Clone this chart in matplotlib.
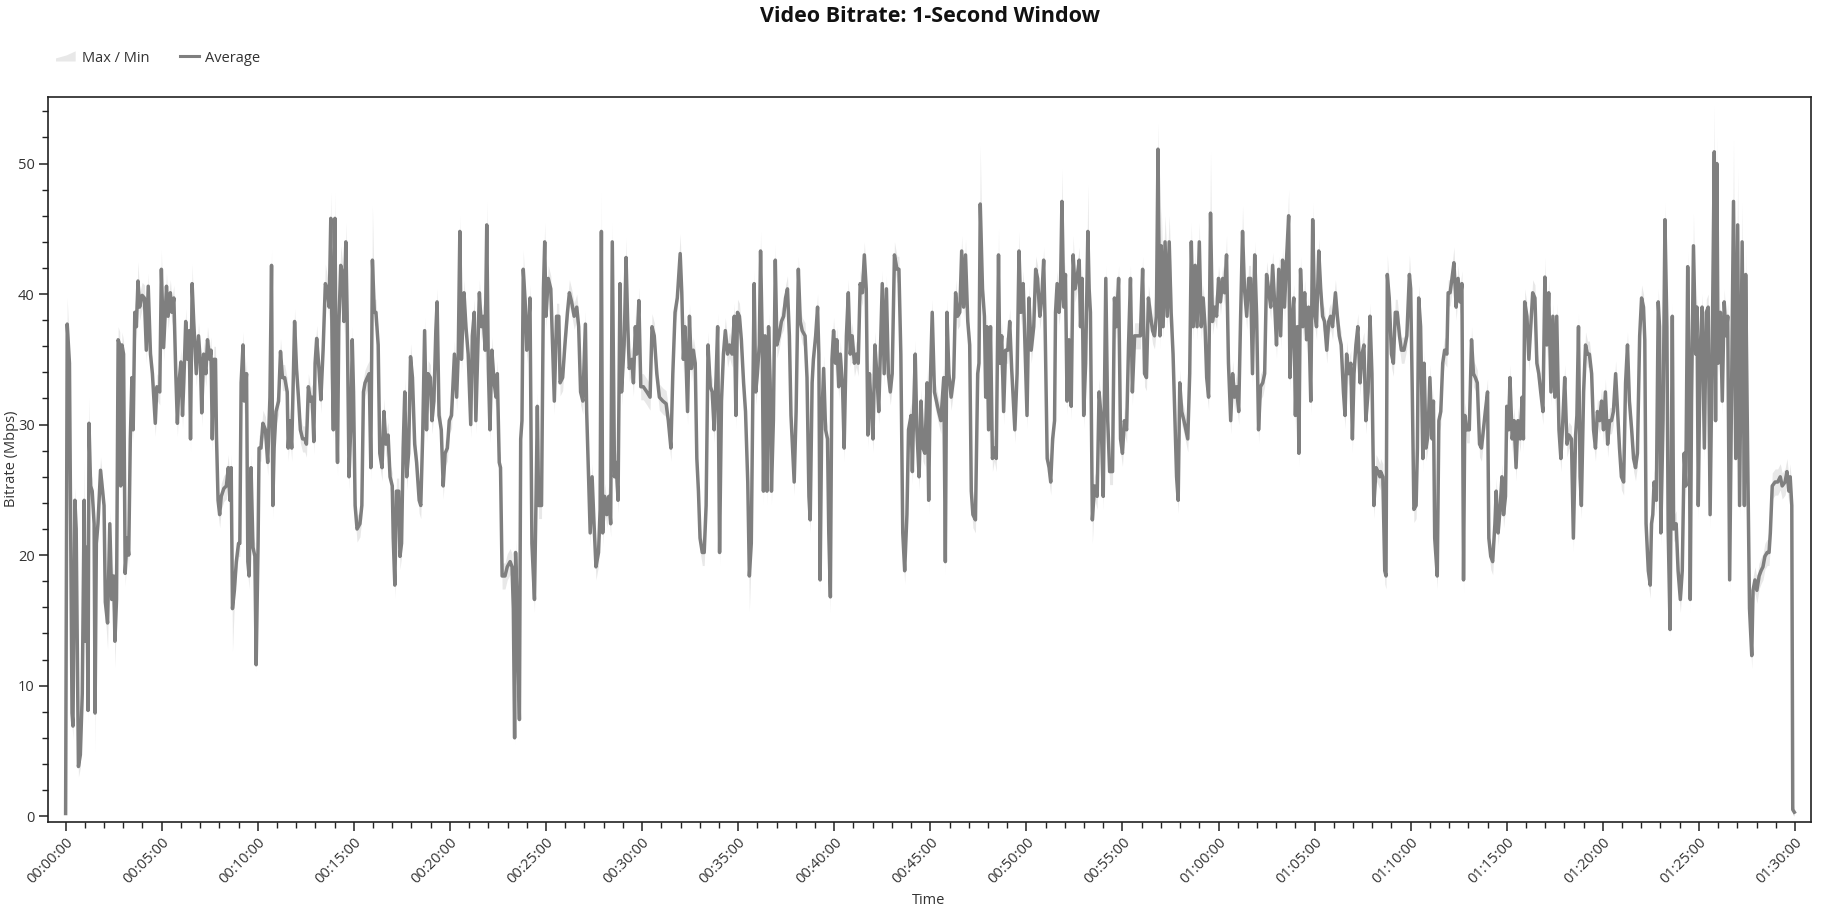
import numpy as np
import matplotlib
matplotlib.use("Agg")
import matplotlib.pyplot as plt
from matplotlib.ticker import MultipleLocator, FuncFormatter
from matplotlib.patches import Patch, Polygon
from matplotlib.lines import Line2D
from matplotlib.legend_handler import HandlerPatch

plt.rcParams['font.family'] = ['Open Sans', 'DejaVu Sans']

title = "Video Bitrate: 1-Second Window"
legend_labels = ["Max / Min", "Average"]
y_label = "Bitrate (Mbps)"
x_label = "Time"

# time (seconds) of each read vertex
time_s = [
    0,5,12,20,23,29,33,40,46,52,
    58,62,66,70,73,78,83,89,92,96,
    101,109,120,124,131,138,144,150,154,159,
    164,169,172,176,181,186,192,197,202,207,
    211,216,221,226,231,239,246,252,258,265,
    271,280,285,294,299,306,315,320,327,332,
    338,344,349,354,360,365,369,375,381,386,
    390,395,400,408,415,421,425,431,438,443,
    450,454,458,463,468,471,476,481,486,494,
    502,508,513,517,521,527,533,540,544,548,
    554,558,565,569,573,579,585,591,595,601,
    604,610,616,624,631,638,643,647,651,657,
    665,671,677,684,692,695,700,706,715,721,
    727,733,740,747,752,758,765,770,775,779,
    784,791,797,804,811,817,823,828,833,836,
    841,845,849,853,859,865,869,875,879,885,
    891,895,899,904,910,919,925,930,935,942,
    948,953,958,964,969,976,981,988,994,1000,
    1007,1013,1020,1023,1028,1033,1040,1044,1049,1054,
    1059,1065,1071,1077,1083,1090,1096,1104,1109,1115,
    1121,1127,1132,1139,1144,1150,1156,1160,1166,1173,
    1179,1185,1192,1198,1205,1214,1221,1226,1231,1236,
    1244,1250,1257,1265,1270,1276,1281,1286,1292,1298,
    1304,1310,1315,1320,1325,1331,1338,1344,1348,1354,
    1358,1363,1372,1379,1388,1394,1398,1402,1405,1410,
    1417,1421,1425,1429,1435,1440,1445,1450,1456,1464,
    1469,1473,1477,1486,1492,1496,1500,1507,1515,1521,
    1526,1533,1540,1544,1552,1559,1567,1573,1580,1588,
    1596,1602,1608,1615,1623,1627,1633,1638,1644,1650,
    1656,1664,1669,1673,1677,1683,1690,1696,1702,1707,
    1714,1719,1725,1731,1736,1744,1750,1755,1760,1768,
    1773,1779,1783,1790,1796,1804,1815,1825,1831,1838,
    1846,1854,1865,1875,1882,1890,1896,1903,1910,1919,
    1924,1929,1934,1942,1948,1954,1960,1966,1971,1976,
    1981,1988,1994,2000,2006,2013,2019,2025,2031,2036,
    2042,2048,2054,2060,2067,2073,2081,2088,2093,2098,
    2104,2110,2117,2123,2130,2135,2141,2146,2150,2155,
    2160,2166,2170,2175,2179,2184,2190,2195,2200,2204,
    2210,2216,2221,2228,2235,2242,2248,2254,2260,2265,
    2270,2275,2281,2288,2294,2300,2309,2315,2321,2325,
    2331,2335,2342,2348,2352,2356,2361,2367,2373,2379,
    2383,2388,2393,2398,2404,2408,2414,2419,2426,2431,
    2438,2444,2450,2456,2463,2469,2475,2481,2488,2494,
    2500,2505,2510,2516,2521,2527,2533,2539,2544,2550,
    2556,2563,2569,2575,2581,2588,2596,2602,2608,2614,
    2620,2627,2632,2640,2644,2648,2653,2658,2665,2671,
    2677,2683,2690,2695,2700,2706,2713,2719,2726,
    2733,2742,2747,2752,2758,2765,2773,2779,2785,2792,
    2798,2804,2810,2817,2823,2828,2833,2841,2848,2852,
    2856,2863,2869,2873,2877,2882,2888,2894,2900,2906,
    2913,2917,2923,2929,2935,2942,2948,2954,2964,2971,
    2977,2983,2990,2994,3002,3008,3015,3023,3029,3035,
    3042,3048,3054,3058,3065,3071,3076,3082,3088,3091,
    3096,3102,3106,3111,3117,3122,3127,3133,3140,3146,
    3152,3158,3165,3169,3174,3179,3185,3192,3196,3200,
    3206,3213,3221,3227,3233,3240,3248,3254,3260,3269,
    3275,3281,3288,3294,3300,3306,3313,3319,3325,3331,
    3338,3344,3350,3356,3363,3369,3375,3381,3388,3394,
    3400,3406,3411,3417,3421,3427,3433,3440,3446,3452,
    3458,3463,3469,3474,3479,3485,3492,3498,3504,3510,
    3515,3521,3527,3533,3540,3546,3552,3558,3563,3569,
    3575,3581,3588,3594,3600,3606,3613,3619,3625,3631,
    3638,3644,3650,3656,3663,3669,3675,3681,3688,3694,
    3700,3706,3713,3719,3725,3731,3738,3744,3750,3756,
    3763,3769,3775,3781,3788,3794,3800,3806,3813,3819,
    3823,3829,3835,3840,3846,3851,3856,3863,3869,3875,
    3881,3888,3894,3900,3906,3913,3919,3925,3931,3938,
    3944,3950,3956,3965,3971,3977,3983,3990,3995,4000,
    4006,4013,4018,4023,4029,4035,4042,4048,4054,4060,
    4067,4073,4079,4085,4092,4098,4104,
    4106,4113,4119,4123,4127,4133,4140,4146,4152,4158,
    4165,4171,4179,4188,4196,4200,4205,4210,4217,4221,
    4225,4231,4238,4242,4248,4254,4260,4267,4271,4275,
    4279,4283,4288,4294,4300,4306,4313,4317,4323,4329,
    4335,4342,4348,4354,4360,4365,4369,4375,4383,4390,
    4396,4402,4408,4415,4421,4427,4433,4440,4444,4450,
    4456,4463,4467,4473,4479,4485,4490,4496,4500,4506,
    4510,4517,4523,4529,4535,4542,4548,4552,4556,4563,
    4569,4575,4581,4588,4594,4600,4606,4613,4619,4625,
    4631,4638,4644,4650,4656,4663,4669,4675,4681,4688,
    4694,4702,4708,4715,4719,4724,4729,4733,4740,4746,
    4752,4758,4765,4771,4777,4783,4790,4796,4802,4808,
    4815,4821,4827,4833,4840,4846,4852,4858,4865,4871,
    4877,4883,4890,4896,4902,4908,4915,4921,4927,4931,
    4935,4942,4948,4952,4956,4960,4967,4973,4977,4981,
    4988,4994,5000,5004,5010,5017,5021,5029,5035,5042,
    5048,5054,5059,5065,5070,5073,5077,5083,5090,5094,
    5098,5104,5110,5117,5123,5129,5135,5142,5148,5152,
    5156,5160,5167,5173,5179,5185,5190,5196,5202,5208,
    5215,5221,5227,5235,5242,5246,5252,5258,5265,5269,
    5275,5281,5288,5294,5300,5306,5313,5319,5323,5329,
    5338,5346,5354,5360,5369,5375,5381,5385,5390,5393,
    5398,
]

# average bitrate (Mbps)
avg_mbps = [
    0.2,37.7,34.7,7.9,6.9,24.2,22,3.8,4.7,9.4,
    24.2,13.4,20.6,8.1,30.1,25.3,24.9,22.4,7.9,20.9,
    22.4,26.5,23.8,16.4,14.8,22.4,16.6,18.4,13.4,16.6,
    36.5,36.1,25.3,36.1,35.4,18.6,21.3,20,28.9,33.6,
    29.6,38.6,37.5,41,39,39.9,39.7,35.7,40.6,35.4,
    33.9,30.1,32.9,32.5,41.9,35.9,40.6,38.3,40.1,38.6,
    39.7,33.9,30.1,33.2,34.8,30.7,33.2,37.9,35,37.2,
    28.9,40.8,37.9,33.9,36.8,34.7,30.9,35.4,33.9,36.5,
    35,35.7,28.9,35,35,29.2,24.2,23.1,24.5,25.1,
    25.3,26.7,24.2,26.7,15.9,17.3,19.5,20.9,20.9,33.2,
    36.1,31.8,33.9,19.5,18.4,26.7,20.6,19.9,11.6,20.9,
    28.2,28.2,30.1,29.6,27.1,32.1,42.2,23.8,28.2,31,
    31.8,35.6,33.6,33.6,32.5,28.2,30.3,28.2,37.9,34.3,
    32.1,29.6,28.9,28.9,28.5,32.9,31.8,32.1,28.7,34.7,
    36.6,34.3,31.9,35.7,40.8,40.4,39,45.8,33.9,29.6,
    45.8,32.5,27.1,37.5,42.2,41.5,37.9,44,38.6,26,
    30.3,36.5,32.5,23.8,22,22.4,23.8,32.5,33.2,33.6,
    33.9,26.7,42.6,38.6,38.6,36.1,27.8,26.7,31,28.5,
    29.2,26,25.3,21.3,17.7,24.9,24.9,19.9,20.9,28.2,
    32.5,26,27.8,35.2,33.6,28.5,27.1,24.2,23.8,29.2,
    37.2,29.6,33.9,33.6,30.3,31.8,37.2,39.4,30.7,29.6,
    25.3,27.8,28.2,30.3,30.7,35.4,32.1,35.4,44.8,35,
    40.1,37.5,35.4,30,36.8,38.6,30.3,34.7,40.1,37.5,
    38.3,35.7,45.3,34.3,29.6,35.7,33.2,32.1,33.9,27.1,
    26.7,18.4,18.4,19.1,19.5,19.1,15.9,6.0,20.2,15.9,
    7.4,28.9,30.3,41.9,39.4,35.7,37.2,39.7,20.9,16.6,
    24.5,31.4,23.8,23.8,40.4,44,38.3,41.2,40.4,35.7,
    31.8,38.3,38.3,33.2,33.6,36.1,38.6,40.1,39.4,38.3,
    39,37.5,32.5,31.8,37.7,31,26,21.7,26,22.4,
    19.1,20.2,23.5,44.8,21.7,24.5,23.1,24.5,22.4,44,
    26,27.1,24.2,40.8,32.5,36.1,42.8,37.9,34.3,35,
    33.2,37.5,35.4,39.5,32.9,32.9,32.5,32.1,37.5,36.8,
    33.9,32.1,31.8,31.6,30.3,28.2,33.9,38.6,39.7,43.1,
    40.1,35,37.5,31,38.3,34.3,35.7,34.7,27.4,24.9,
    21.3,20.2,20.2,23.8,36.1,32.9,32.5,29.6,33.6,37.5,
    20.2,31.8,35.4,37.2,35.4,36.1,35.4,38.3,30.7,38.6,
    38.3,36.5,33.2,31,25.6,18.4,20.9,32.5,40.8,32.5,
    33.9,36.1,43.3,36.8,24.9,36.8,24.9,37.5,33.2,24.9,
    30.3,42.6,36.1,36.8,37.9,38.3,39.7,40.4,36.8,30.7,
    28.2,25.6,31,41.9,37.9,37.2,36.8,33.6,24.5,22.7,
    33.2,35,36.8,39,35.4,18.1,30.3,34.3,29.6,28.9,
    21.7,16.8,35,37.2,34.7,36.5,32.9,35.4,32.9,28.2,
    36.8,40.1,35.4,36.8,34.7,35.4,34.7,40.8,40.1,43,
    40.4,29.2,33.9,31,28.9,36.1,33.9,31,35.4,40.8,
    33.9,40.4,33.9,32.5,33.9,43,41.9,41.9,35.4,21.7,
    18.8,23.1,29.6,30.7,26.4,31,35.4,29.6,26,31.8,
    28.2,27.8,33.2,24.2,33.2,38.6,32.5,31.8,31,
    30.3,33.6,19.5,38.6,33.9,32.1,33.6,40.1,38.3,38.6,
    43.3,39,43,37.9,36.1,24.9,23.1,22.7,33.9,34.7,
    46.9,40.4,38.3,32.1,37.5,29.6,37.5,27.4,28.2,27.4,
    43,34.7,36.8,31,35.7,35.7,37.9,34.3,29.6,33.9,
    43.3,38.6,40.8,37.5,30.7,39.7,35.7,37.5,41.9,41.2,
    38.3,39.7,42.6,38.3,27.4,26.7,25.6,28.9,30.3,38.6,
    40.8,38.6,39.7,47.1,39,41.5,31.8,36.5,31.4,43,
    40.4,41.2,42.6,37.5,41.2,30.7,34.7,44.8,40.4,38.6,
    22.7,25.3,24.5,32.5,30.7,24.5,41.2,30.3,26.4,26.4,
    39.7,37.5,41.2,28.9,27.8,30.3,29.6,36.1,41.2,32.5,
    36.8,36.8,36.8,36.8,41.9,33.9,33.6,39.7,38.3,37.2,
    36.8,38.3,51.1,36.8,43.7,37.5,44,38.3,44,38.6,
    35.4,31,26,24.2,33.2,31,30.3,29.6,28.9,33.9,
    44,37.5,42.2,37.5,44,37.5,39.7,37.5,33.6,32.1,
    46.2,37.9,39,38.3,41.2,39.4,41.2,40.1,43,34.7,
    30.3,33.9,32.1,32.9,31,38.3,44.8,40.4,38.3,41.2,
    41.2,33.9,43,38.3,29.6,32.9,33.2,33.9,41.5,40.4,
    39,42.2,39.4,36.1,41.9,36.8,42.6,39,43,46,
    33.6,37.9,39.7,30.7,37.5,27.8,41.9,37.5,40.1,36.5,
    39,31.8,45.7,38.6,37.5,43.3,40.4,38.3,37.9,35.7,
    37.9,38.3,37.5,40.1,38.3,36.8,36.1,32.5,30.7,35.4,
    33.9,34.7,28.9,33.9,36.1,37.5,33.2,35.4,36.1,30.3,
    32.5,38.3,33.9,23.8,26.7,26.4,26,
    26.4,26,18.8,18.4,41.5,39.7,35.4,34.7,38.6,38.6,
    36.8,35.7,35.7,36.8,41.5,40.4,32.5,23.5,23.8,28.2,
    39.7,37.5,27.4,34.7,28.2,29.2,33.6,28.9,31.8,21.3,
    19.9,18.4,30.3,31,34.7,35.7,35.4,40.1,40.1,41.2,
    42.4,39,41.2,39.4,40.8,18.1,30.7,29.6,29.6,36.5,
    33.9,33.6,33.2,28.5,28.2,29.6,31,32.5,21.3,19.9,
    19.5,22.4,24.9,21.7,23.5,26,23.1,24.5,31.4,29.6,
    33.6,28.9,30.3,26.7,30.3,28.9,32.1,28.9,39.4,38.3,
    35,37.5,40.1,39.7,34.7,33.9,32.5,31,41.3,36.1,
    40.1,32.5,38.3,32.1,38.3,29.6,27.4,30.3,33.6,28.5,
    29.2,28.9,21.3,29.2,30.7,37.5,26,23.8,32.5,36.1,
    35.4,35.4,33.9,29.6,28.2,31,30.3,31.8,29.6,32.5,
    28.5,30.3,30.3,31,33.9,31,28.2,26,25.6,33.2,
    36.1,31.8,29.6,27.4,26.7,27.8,36.8,39.7,39,36.5,
    22.4,18.8,17.7,22.4,23.1,25.6,24.2,39.4,37.5,21.7,
    30.3,45.7,37.5,22,14.3,38.3,22,22.4,18.8,16.6,
    18.8,27.8,25.3,42.1,32.1,16.6,31.8,43.7,35.4,39,
    23.8,35.7,39,28.2,38.6,39,23.1,36.8,50.9,30.3,
    50,34.7,38.6,31.8,39.4,36.8,38.3,18.1,32.5,47.1,
    27.4,45.3,23.8,44,23.8,41.5,28.2,15.9,12.3,17.3,
    18.1,17.3,18.4,18.8,19.1,19.9,20.2,20.2,21.7,25.3,
    25.6,25.6,26,25.3,25.6,26.4,24.9,26,23.8,0.5,
    0.3,
]

# how far the 1-second maximum rises above the average (Mbps)
max_gap = [
    0.3,2,1,1,1,1,1,1,1,1,
    3,1,1,1,2,1,1,1,1,1,
    1,1,1,1,1,1,1,1,1,1,
    1,1,1,1,1,1,1,1,1,1,
    1,1,1,1.5,1,1,1,1,1,1,
    1,1,1,1,1.5,1,1,1,1,1,
    1,1,1,1,1,1,1,1,1,1,
    1,1.5,1,1,1,1,1,1,1,1,
    1,1,1,1,1,1,1,1,1,1,
    1,1,1,1,1,1,1,1,1,1,
    1,1,1,1,1,1,1,1,1,1,
    1,1,1,1,1,1,1.2,1,1,1,
    1,1,1,1,1,1,1,1,1,1,
    1,1,1,1,1,1,1,1,1,1,
    1,1,1,1,1.5,1,1,2,1,1,
    2,1,1,1,1.5,1,1,1.5,1,1,
    1,1,1,1,1,1,1,1,1,1,
    1,1,4.2,1,1,1,1,1,1,1,
    1,1,1,1,1,1,1,1,1,1,
    1,1,1,1,1,1,1,1,1,1,
    1,1,1,1,1,1,1,1,1,1,
    1,1,1,1,1,1,1,1,1.2,1,
    1,1,1,1,1,1,1,1,1,1,
    1,1,1.8,1,1,1,1,1,1,1,
    1,1,1,1,1,1,1,1,1,1,
    1,1,1,1.5,1,1,1,1,1,1,
    1,1,1,1,1,1.5,1,1,1,1,
    1,1,1,1,1,1,1,1,1,1,
    1,1,1,1,1,1,1,1,1,1,
    1,1,1,3,1,1,1,1,1,1.5,
    1,1,1,1,1,1,1.5,1,1,1,
    1,1,1,1,1,1,1,1,1,1,
    1,1,1,1,1,1,1,1,1,1.5,
    1,1,1,1,1,1,1,1,1,1,
    1,1,1,1,1,1,1,1,1,1,
    1,1,1,1,1,1,1,1,1,1,
    1,1,1,1,1,1,1,1,1,1,
    1,1,1.5,1,1,1,1,1,1,1,
    1,1.2,1,1,1,1,1,1,1,1,
    1,1,1,1,1,1,1,1,1,1,
    1,1,1,1,1,1,1,1,1,1,
    1,1,1,1,1,1,1,1,1,1,
    1,1,1,1,1,1,1,1,1,1,
    1,1,1,1,1,1,1,1,1,1,
    1,1,1,1,1,1,1,1,1,1,
    1,1,1,1,1,1,1,1,1,1,
    1,1,1,1,1,1,1,1,1,
    1,1,1,1,1,1,1,1,1,1,
    1.2,1,1.2,1,1,1,1,1,1,1,
    4.5,1,1,1,1,1,1,1,1,1,
    2,1,1,1,1,1,1,1,1,1,
    1.5,1,1,1,1,1,1,1,1,1,
    1,1,1,1,1,1,1,1,1,1,
    1,1,1,2.5,1,1,1,1,1,1.5,
    1,1,1,1,1,1,1,3.6,1,1,
    1,1,1,1,1,1,1,1,1,1,
    1,1,1,1,1,1,1,1,1,1,
    1,1,1,1,1,1,1,1,1,1,
    3,4,2,5,3,4,2,4,2,3,
    2,2,1,1,1,1,1,1,1,1,
    1.5,1,1,1,1.5,1,1,1,1,1,
    4.7,1,1,1,1,1,1,1,1.5,1,
    1,1,1,1,1,1,2,1,1,1,
    1,1,1,1,1,1,1,1,1,1,
    1,1,1,1,1,1,1,1,1,2,
    1,1,1,1,1,1,1,1,1,1,
    1,1,1.3,1,1,1,1,1,1,1,
    1,1,1,1,1,1,1,1,1,1,
    1,1,1,1,1,1,1,1,1,1,
    1,1,1,1,1,1,1,
    1,1,1,1,1.5,1,1,1,1,1,
    1,1,1,1,1.5,1,1,1,1,1,
    1,1,1,1,1,1,1,1,1,1,
    1,1,1,1,1,1,1,1,1,1,
    1.2,1,1,1,1,1,1,1,1,1,
    1,1,1,1,1,1,1,1,1,1,
    1,1,1,1,1,1,1,1,1,1,
    1,1,1,1,1,1,1,1,1,1,
    1,1,1,1,1,1,1,1,1.5,1,
    1,1,1,1,1,1,1,1,1,1,
    1,1,1,1,1,1,1,1,1,1,
    1,1,1,1,1,1,1,1,1,1,
    1,1,1,1,1,1,1,1,1,1,
    1,1,1,1,1,1,1,1,1,1,
    1,1,1,1,1,1,1,1,1,1,
    1,1.3,1,1,1,1,1,1,1,1,
    1,1,1,1.2,1,1,1,2.5,1,1,
    1,1,1,1,1,1,1,1,3.6,1,
    2,1,1,1,1,1,1,1,1,4.7,
    1,4.3,1,3,1,2,1,1,1,1,
    1,1,1,1,1,1,1,1,1,1,
    1,1,1,1,1,1,1,1,1,0.5,
    0.3,
]

# how far the 1-second minimum falls below the average (Mbps)
min_gap = [
    0.2,1,1,1,1,1,1,0.8,1,1,      # A1
    1,1,1,1,1,1,1,1,3,1,          # A2
    1,1,1,1,2,1,1,1,2,1,          # A3
    1,1,1,1,1,1,1,1,1,1,          # A4
    1,1,1,1,1,1,1,1,1,1,          # A5
    1,1,1,1,1,1,1,1,1,1,          # A6
    1,1,1,1,1,1,1,1,1,1,          # A7
    1,1,1,1,1,1,1,1,1,1,          # A8
    1,1,1,1,1,1,1,1,1,1,          # A9
    1,1,1,1,3.3,1,1,1,1,1,        # A10
    1,1,1,1,1,1,1,1,0.5,1,        # A11
    1,1,1,1,1,1,1,1,1,1,          # A12
    1,1,1,1,1,1,1,1,1,1,          # A13
    1,1,1,1,1,1,1,1,1,1,          # A14
    1,1,1,1,1,1,1,1,1,1,          # A15
    1,1,1,1,1,1,1,1,1,1,          # A16
    1,1,1,1,1,1,1,1,1,1,          # A17
    1,1,1,1,1,1,1,1,1,1,          # A18
    1,1,1,1,1,1,1,1,1,1,          # A19
    1,1,1,1,1,1,1,1,1,1,          # A20
    1,1,1,1,1,1,1,1,1,1,          # A21
    1,1,1,1,1,1,1,1,1,1,          # A22
    1,1,1,1,1,1,1,1,1,1,          # A23
    1,1,1,1,1,1,1,1,1,1,          # A24
    1,1,1,1,1,1,1,0.5,1,1,        # B1
    0.6,1,1,1,1,1,1,1,1,1,        # B2
    1,1,1,1,1,1,1,1,1,1,          # B3
    1,1,1,1,1,1,1,1,1,1,          # B4
    1,1,1,1,1,1,1,1,1,1,          # B5
    1,1,1,1,1,1,1,1,1,1,          # B6
    1,1,1,1,1,1,1,1,1,1,          # B7
    1,1,1,1,1,1,1,1,1,1,          # B8
    1,1,1,1,1,1,1,1,1,1,          # B9
    1,1,1,1,1,1,1,1,1,1,          # B10
    1,1,1,1,1,1,1,1,1,1,          # B11
    1,1,1,1,1,1,1,1,1,1,          # B12
    1,1,1,1,1,2.7,1,1,1,1,        # B13
    1,1,1,1,1,1,1,1,1,1,          # B14
    1,1,1,1,1,1,1,1,1,1,          # B15
    1,1,1,1,1,1,1,1,1,1,          # B16
    1,1,1,1,1,1,1,1,1,1,          # B17
    1,1.2,1,1,1,1,1,1,1,1,        # B18
    1,1,1,1,1,1,1,1,1,1,          # B19
    1,1,1,1,1,1,1,1,1,1,          # B20
    1,1,1,1,1,1,1,1,1,1,          # B21
    1,1,1,1,1,1,1,1,1,1,          # B22
    1,1,1,1,1,1,1,1,1,            # B23
    1,1,1,1,1,1,1,1,1,1,          # C1
    1,1,1,1,1,1,1,1,1,1,          # C2
    1,1,1,1,1,1,1,1,1,1,          # C3
    1,1,1,1,1,1,1,1,1,1,          # C4
    1,1,1,1,1,1,1,1,1,1,          # C5
    1,1,1,1,1,1,1,1,1,1,          # C6
    1,1,1,1,1,1,1,1,1,1,          # C7
    1,1,1,1,1,1,1,1,1,1,          # C8
    1.8,1,1,1,1,1,1,1,1,1,        # C9
    1,1,1,1,1,1,1,1,1,1,          # C10
    1,1,1,1,1,1,1,1,1,1,          # C11
    1,1,1,1,1,1,1,1,1,1,          # C12
    1,1,1,1,1,1,1,1,1,1,          # C13
    1,1,1,1,1,1,1,1,1,1,          # C14
    1,1,1,1,1,1,1,1,1,1,          # C15
    1,1,1,1,1,1,1,1,1,1,          # C16
    1,1,1,1,1,1,1,1,1,1,          # C17
    1,1,1,1,1,1,1,1,1,1,          # C18
    1,1,1,1,1,1,1,1,1,1,          # C19
    1,1,1,1,1,1,1,1,1,1,          # C20
    1,1,1,1,1,1,1,1,1,1,          # C21
    1,1,1,1,1,1,1,1,1,1,          # C22
    1,1,1,1,1,1,1,                # C23
    1,1,1,1,1,1,1,1,1,1,          # D1
    1,1,1,1,1,1,1,1,1,1,          # D2
    1,1,1,1,1,1,1,1,1,1,          # D3
    1,1,1,1,1,1,1,1,1,1,          # D4
    1,1,1,1,1,1,1,1,1,1,          # D5
    1,1,1,1,1,1,1,1,1,1,          # D6
    1,1,1,1,1,1,1,1,1,1,          # D7
    1,1,1,1,1,1,1,1,1,1,          # D8
    1,1,1,1,1,1,1,1,1,1,          # D9
    1,1,1,1,1,1,1,1,1,1,          # D10
    1,1,1,1,1,1,1,1,1,1,          # D11
    1,1,1,1,1,1,1,1,1,1,          # D12
    1,1,1,1,1,1,1,1,1,1,          # D13
    1,1,1,1,1,1,1,1,1,1,          # D14
    1,1,1,1,1,1,1,1,1,1,          # D15
    1,1,1,1,0.6,1,1,1,1,1,        # D16
    1,1,1,1,1,1,1,1,1,1,          # D17
    1,1,1,1,1,1,1,1,1,1,          # D18
    1,1,1,1,1,1,1,1,1,1,          # D19
    1,1,1,1,1,1,1,1,1,1,          # D20
    1,1,1,1,1,1,1,1,1,1,          # D21
    1,1,1,1,1,1,1,1,1,0.4,        # D22
    0.3,                          # D23
]

t = np.array(time_s, dtype=float)
avg = np.array(avg_mbps, dtype=float)
mx = avg + np.array(max_gap, dtype=float)
mn = np.clip(avg - np.array(min_gap, dtype=float), 0, None)

W, H = 1828, 906
AX_L, AX_R, AX_T, AX_B = 48, 1811, 97, 822
fig = plt.figure(figsize=(W / 100, H / 100), dpi=100)
ax = fig.add_axes([AX_L / W, 1 - AX_B / H, (AX_R - AX_L) / W, (AX_B - AX_T) / H])

band_color = '#e8e8e8'
line_color = '#7f7f7f'
ax.fill_between(t, mn, mx, color=band_color, lw=0, zorder=1)
ax.plot(t, avg, color=line_color, lw=2.5, solid_joinstyle='round', zorder=2)

ax.set_xlim(-55, 5450)
ax.set_ylim(-0.45, 55.1)

def hms(s, _pos):
    s = int(round(s))
    return f"{s // 3600:02d}:{(s % 3600) // 60:02d}:{s % 60:02d}"

ax.xaxis.set_major_locator(MultipleLocator(300))
ax.xaxis.set_minor_locator(MultipleLocator(60))
ax.xaxis.set_major_formatter(FuncFormatter(hms))
ax.yaxis.set_major_locator(MultipleLocator(10))
ax.yaxis.set_minor_locator(MultipleLocator(2))

ax.tick_params(axis='both', which='major', length=6.5, width=1.1, color='#222222',
               labelsize=10.5, labelcolor='#333333', direction='out', pad=3)
ax.tick_params(axis='both', which='minor', length=4, width=1.0, color='#222222', direction='out')
for lab in ax.get_xticklabels():
    lab.set_rotation(45)
    lab.set_ha('right')
    lab.set_rotation_mode('anchor')

for sp in ax.spines.values():
    sp.set_color('#222222')
    sp.set_linewidth(1.2)

fig.text(12 / W, 1 - 459 / H, y_label, rotation=90, ha='center', va='center',
         fontsize=10.5, color='#333333')
fig.text(929 / W, 1 - 900 / H, x_label, ha='center', va='center', fontsize=10.5, color='#333333')
fig.text(930 / W, 1 - 16 / H, title, ha='center', va='center', fontsize=15.5,
         fontweight='bold', color='#111111')


def area_icon(legend, orig_handle, xdescent, ydescent, width, height, fontsize):
    x0, y0 = -xdescent, -ydescent
    pts = [(x0, y0), (x0 + width, y0), (x0 + width, y0 + height),
           (x0 + 0.55 * width, y0 + 0.6 * height), (x0, y0 + 0.3 * height)]
    return Polygon(pts, closed=True)


handles = [Patch(facecolor=band_color, edgecolor='none'),
           Line2D([0], [0], color=line_color, lw=2.2)]
fig.legend(handles, legend_labels, loc='center left', bbox_to_anchor=(56 / W, 1 - 58 / H),
           ncol=2, frameon=False, fontsize=10.5, handlelength=1.35, handletextpad=0.4,
           columnspacing=2.1, labelcolor='#333333', borderaxespad=0, borderpad=0,
           handler_map={Patch: HandlerPatch(patch_func=area_icon)})

fig.savefig('out.png', dpi=100)
